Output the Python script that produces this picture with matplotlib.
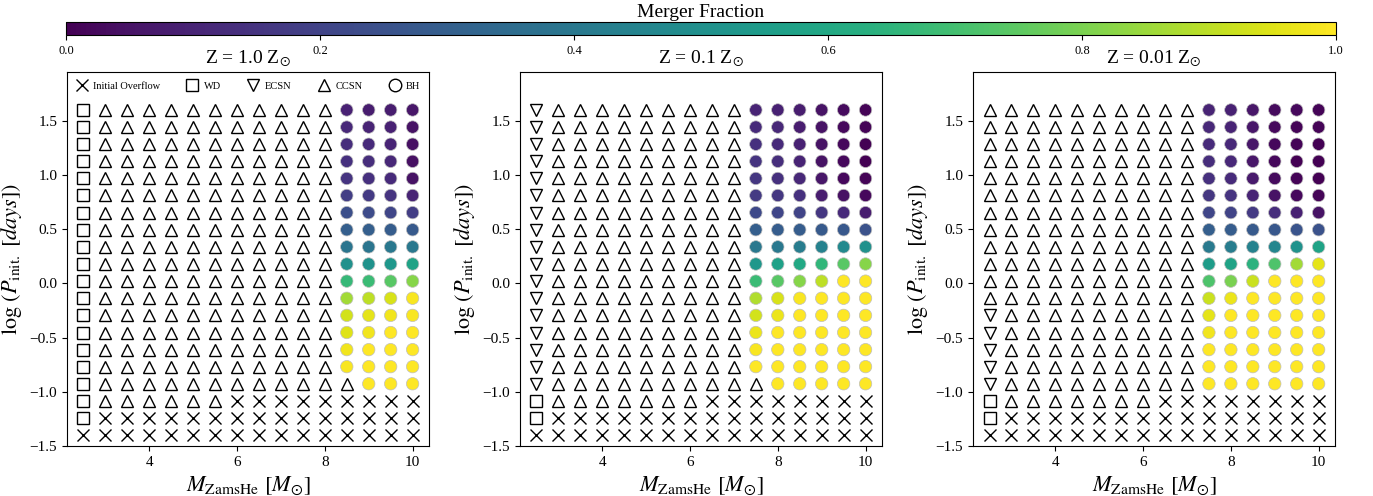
import matplotlib
matplotlib.use('Agg')
import matplotlib.pyplot as plt
import matplotlib.lines as mlines

plt.rcParams['font.family'] = 'Liberation Serif'
plt.rcParams['mathtext.fontset'] = 'stix'

# grid of initial He-star masses and log orbital periods
masses = [2.5, 3.0, 3.5, 4.0, 4.5, 5.0, 5.5, 6.0, 6.5, 7.0, 7.5, 8.0, 8.5, 9.0, 9.5, 10.0]
log_periods = [1.6, 1.442, 1.284, 1.126, 0.968, 0.811, 0.653, 0.495, 0.337, 0.179,
               0.021, -0.137, -0.295, -0.453, -0.611, -0.768, -0.926, -1.084, -1.242, -1.4]

titles = ['Z = 1.0 Z$_{\\odot}$', 'Z = 0.1 Z$_{\\odot}$', 'Z = 0.01 Z$_{\\odot}$']

# outcome per cell, rows from top (log P = 1.6) to bottom (log P = -1.4)
# X = initial overflow, W = WD, E = ECSN, C = CCSN, B = BH
outcome_z1 = ['WCCCCCCCCCCCBBBB'] * 16 + ['WCCCCCCCCCCCCBBB', 'WCCCCCCXXXXXXXXX',
                                          'WXXXXXXXXXXXXXXX', 'XXXXXXXXXXXXXXXX']
outcome_z01 = ['ECCCCCCCCCBBBBBB'] * 16 + ['ECCCCCCCCCCBBBBB', 'WCCCCCCCXXXXXXXX',
                                           'WXXXXXXXXXXXXXXX', 'XXXXXXXXXXXXXXXX']
outcome_z001 = ['CCCCCCCCCCBBBBBB'] * 12 + ['ECCCCCCCCCBBBBBB'] * 5 + ['WCCCCCCCXXXXXXXX',
                                                                      'WXXXXXXXXXXXXXXX',
                                                                      'XXXXXXXXXXXXXXXX']

# merger fraction of the BH cells, row by row from the top
merger_z1 = [[0.09, 0.08, 0.08, 0.06],
             [0.11, 0.10, 0.09, 0.05],
             [0.13, 0.12, 0.10, 0.04],
             [0.14, 0.13, 0.11, 0.04],
             [0.15, 0.14, 0.12, 0.05],
             [0.18, 0.17, 0.15, 0.10],
             [0.24, 0.23, 0.21, 0.18],
             [0.30, 0.30, 0.29, 0.28],
             [0.39, 0.39, 0.40, 0.40],
             [0.50, 0.51, 0.53, 0.58],
             [0.67, 0.68, 0.74, 0.82],
             [0.86, 0.90, 0.94, 0.99],
             [0.93, 0.96, 0.98, 0.99],
             [0.95, 0.98, 1.0, 1.0],
             [0.98, 1.0, 1.0, 1.0],
             [0.99, 1.0, 1.0, 1.0],
             [1.0, 1.0, 1.0]]

merger_z01 = [[0.10, 0.09, 0.08, 0.05, 0.03, 0.01],
              [0.12, 0.11, 0.08, 0.05, 0.02, 0.01],
              [0.14, 0.12, 0.09, 0.05, 0.02, 0.0],
              [0.15, 0.13, 0.10, 0.05, 0.02, 0.0],
              [0.16, 0.14, 0.11, 0.06, 0.02, 0.01],
              [0.17, 0.16, 0.14, 0.08, 0.04, 0.02],
              [0.22, 0.21, 0.20, 0.16, 0.12, 0.08],
              [0.30, 0.29, 0.29, 0.28, 0.27, 0.25],
              [0.40, 0.40, 0.42, 0.44, 0.47, 0.50],
              [0.53, 0.57, 0.60, 0.66, 0.74, 0.82],
              [0.68, 0.74, 0.82, 0.90, 1.0, 1.0],
              [0.88, 0.94, 0.99, 1.0, 1.0, 1.0],
              [0.93, 0.97, 1.0, 1.0, 1.0, 1.0],
              [0.97, 1.0, 1.0, 1.0, 1.0, 1.0],
              [0.99, 1.0, 1.0, 1.0, 1.0, 1.0],
              [1.0, 1.0, 1.0, 1.0, 1.0, 1.0],
              [1.0, 1.0, 1.0, 1.0, 1.0]]

merger_z001 = [[0.10, 0.09, 0.06, 0.03, 0.02, 0.01],
               [0.11, 0.10, 0.06, 0.02, 0.01, 0.01],
               [0.12, 0.11, 0.06, 0.02, 0.01, 0.0],
               [0.13, 0.11, 0.06, 0.02, 0.0, 0.0],
               [0.14, 0.12, 0.07, 0.03, 0.01, 0.0],
               [0.16, 0.15, 0.10, 0.05, 0.02, 0.01],
               [0.21, 0.20, 0.17, 0.13, 0.09, 0.05],
               [0.30, 0.29, 0.28, 0.27, 0.26, 0.25],
               [0.41, 0.42, 0.44, 0.46, 0.51, 0.58],
               [0.55, 0.58, 0.64, 0.72, 0.86, 0.96],
               [0.72, 0.80, 0.92, 1.0, 1.0, 1.0],
               [0.92, 0.97, 1.0, 1.0, 1.0, 1.0],
               [0.96, 1.0, 1.0, 1.0, 1.0, 1.0],
               [0.98, 1.0, 1.0, 1.0, 1.0, 1.0],
               [1.0, 1.0, 1.0, 1.0, 1.0, 1.0],
               [1.0, 1.0, 1.0, 1.0, 1.0, 1.0],
               [1.0, 1.0, 1.0, 1.0, 1.0, 1.0]]

outcomes = [outcome_z1, outcome_z01, outcome_z001]
mergers = [merger_z1, merger_z01, merger_z001]

markers = {'X': 'x', 'W': 's', 'E': 'v', 'C': '^'}
legend_labels = ['Initial Overflow', 'WD', 'ECSN', 'CCSN', 'BH']

fig = plt.figure(figsize=(13.73, 4.96), dpi=100)
lefts = [0.0488, 0.3787, 0.7087]

for k in range(3):
    ax = fig.add_axes([lefts[k], 0.1008, 0.2637, 0.754])
    grid = outcomes[k]
    # collect the points of each outcome
    pts = {c: ([], []) for c in 'XWECB'}
    frac = []
    for i, row in enumerate(grid):
        b = 0
        for j, c in enumerate(row):
            pts[c][0].append(masses[j])
            pts[c][1].append(log_periods[i])
            if c == 'B':
                frac.append(mergers[k][i][b])
                b += 1
    for c in 'XWEC':
        ax.plot(pts[c][0], pts[c][1], linestyle='none', marker=markers[c], ms=9,
                mfc='none', mec='k', mew=1.0)
    sc = ax.scatter(pts['B'][0], pts['B'][1], c=frac, cmap='viridis', vmin=0, vmax=1,
                    s=80, edgecolors='0.75', linewidths=0.5, zorder=3)
    ax.set_ylim(-1.5, 1.95)
    ax.set_yticks([-1.5, -1.0, -0.5, 0.0, 0.5, 1.0, 1.5])
    ax.set_xticks([4, 6, 8, 10])
    ax.tick_params(labelsize=11)
    ax.set_title(titles[k], fontsize=14)
    ax.set_xlabel('$M_{\\rm ZamsHe}$ $[M_{\\odot}]$', fontsize=16)
    ax.set_ylabel('$\\log\\,(P_{\\rm init.}$ $[days])$', fontsize=16)

    if k == 0:
        handles = [mlines.Line2D([], [], linestyle='none', marker=m, ms=9, mfc='none',
                                 mec='k', mew=1.0) for m in ['x', 's', 'v', '^', 'o']]
        ax.legend(handles, legend_labels, loc='upper left', ncol=5, frameon=False,
                  fontsize=7.5, handlelength=1.0, handletextpad=0.6, columnspacing=2.6,
                  borderaxespad=0.5)

cax = fig.add_axes([0.048, 0.929, 0.925, 0.026])
cb = fig.colorbar(sc, cax=cax, orientation='horizontal')
cb.set_ticks([0.0, 0.2, 0.4, 0.6, 0.8, 1.0])
cax.tick_params(labelsize=9)
cax.xaxis.set_label_position('top')
cb.set_label('Merger Fraction', fontsize=14)

fig.savefig('out.png', dpi=100)
